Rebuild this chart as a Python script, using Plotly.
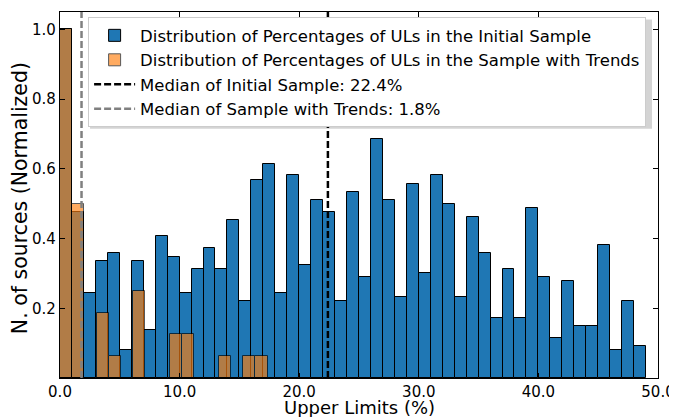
import numpy as np
import plotly.graph_objects as go

# ---- data ----
blue_edges = np.arange(0, 50, 1.0)  # 49 bins, 0..49
blue_heights = [1.0, 0.476, 0.243, 0.335, 0.359, 0.079, 0.335, 0.138, 0.406, 0.348,
                0.243, 0.313, 0.372, 0.313, 0.453, 0.220, 0.569, 0.615, 0.243, 0.581,
                0.324, 0.510, 0.476, 0.220, 0.534, 0.289, 0.685, 0.510, 0.231, 0.558,
                0.301, 0.581, 0.499, 0.231, 0.463, 0.359, 0.173, 0.312, 0.173, 0.488,
                0.289, 0.116, 0.278, 0.149, 0.149, 0.383, 0.079, 0.220, 0.092]
orange_edges = np.linspace(0, 17.35, 18)
orange_heights = [1.0, 0.5, 0.0, 0.1875, 0.0625, 0.0, 0.25, 0.0, 0.0, 0.125,
                  0.125, 0.0, 0.0, 0.0625, 0.0, 0.0625, 0.0625]
median_initial = 22.4
median_trends = 1.8
x_ticks = [0, 10, 20, 30, 40, 50]
y_ticks = [0.2, 0.4, 0.6, 0.8, 1.0]
labels = ["Distribution of Percentages of ULs in the Initial Sample",
          "Distribution of Percentages of ULs in the Sample with Trends",
          "Median of Initial Sample: 22.4%",
          "Median of Sample with Trends: 1.8%"]
x_title = "Upper Limits (%)"
y_title = "N. of sources (Normalized)"

FONT = "DejaVu Sans"
YMAX = 1.05

bc = [(blue_edges[i] + blue_edges[i + 1]) / 2 for i in range(len(blue_heights))]
bw = [blue_edges[i + 1] - blue_edges[i] for i in range(len(blue_heights))]
oc, ow, oh = [], [], []
for i, h in enumerate(orange_heights):
    if h > 0:
        oc.append((orange_edges[i] + orange_edges[i + 1]) / 2)
        ow.append(orange_edges[i + 1] - orange_edges[i])
        oh.append(h)

fig = go.Figure()
fig.add_trace(go.Bar(x=bc, y=blue_heights, width=bw, name=labels[0],
                     marker=dict(color="#1f77b4", line=dict(color="black", width=1))))
fig.add_trace(go.Bar(x=oc, y=oh, width=ow, name=labels[1], opacity=0.65,
                     marker=dict(color="#ff7f0e", line=dict(color="black", width=1))))
fig.add_trace(go.Scatter(x=[median_initial, median_initial], y=[0, YMAX], mode="lines",
                         name=labels[2], line=dict(color="black", width=2.5, dash="7px,3px")))
fig.add_trace(go.Scatter(x=[median_trends, median_trends], y=[0, YMAX], mode="lines",
                         name=labels[3], line=dict(color="gray", width=2.5, dash="7px,3px")))

axis_common = dict(showgrid=False, zeroline=False, showline=True, linecolor="black",
                   linewidth=1.2, mirror="ticks", ticks="inside", ticklen=5, tickwidth=1,
                   tickcolor="black", automargin=False,
                   tickfont=dict(family=FONT, size=15, color="black"))
fig.update_layout(
    width=669, height=409, barmode="overlay", bargap=0,
    plot_bgcolor="white", paper_bgcolor="white",
    margin=dict(l=52, r=19, t=4, b=39),
    font=dict(family=FONT, color="black"),
    xaxis=dict(range=[0, 50], tickvals=x_ticks, ticktext=[f"{v:.1f}" for v in x_ticks],
               **axis_common),
    yaxis=dict(range=[0, YMAX], tickvals=y_ticks, ticktext=[f"{v:.1f}" for v in y_ticks],
               **axis_common),
    legend=dict(x=0.047, y=0.986, xanchor="left", yanchor="top",
                bgcolor="rgba(255,255,255,1)", bordercolor="#cccccc", borderwidth=1,
                font=dict(family=FONT, size=16.5, color="black"), traceorder="normal",
                tracegroupgap=0, itemwidth=41),
    showlegend=True,
)
# axis titles
fig.add_annotation(text=x_title, xref="paper", yref="paper", x=0.5, y=-0.081,
                   xanchor="center", yanchor="middle", showarrow=False,
                   font=dict(family=FONT, size=18, color="black"))
fig.add_annotation(text=y_title, xref="paper", yref="paper", x=-0.0677, y=0.49,
                   xanchor="center", yanchor="middle", showarrow=False, textangle=-90,
                   font=dict(family=FONT, size=20.5, color="black"))
# legend drop shadow
fig.add_shape(type="rect", xref="paper", yref="paper", x0=0.0502, x1=0.990, y0=0.6808, y1=0.9795,
              fillcolor="rgba(0,0,0,0.17)", line=dict(width=0), layer="above")
fig.write_html("out.html")
